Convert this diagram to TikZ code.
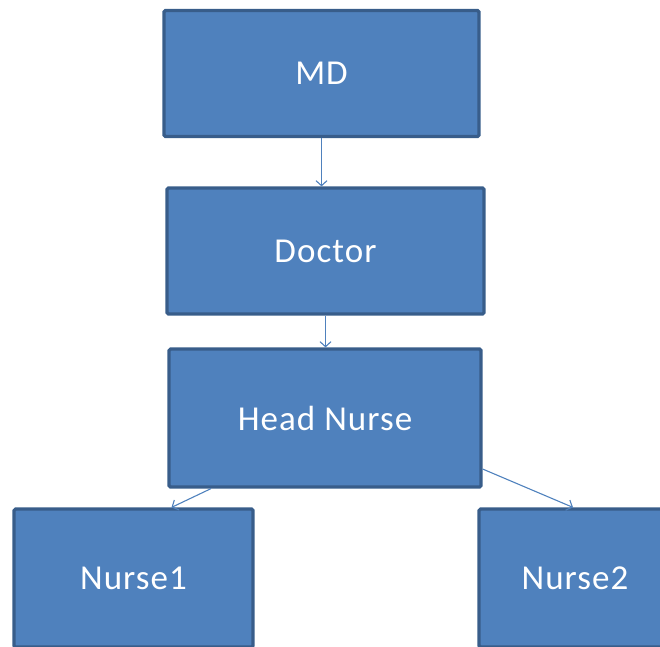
\documentclass[tikz,border=0pt]{standalone}
\usepackage{fontspec}
\setmainfont[LetterSpace=3]{Carlito}
\usepackage{tikz}
\usetikzlibrary{arrows.meta}
\definecolor{boxblue}{RGB}{79,129,189}
\definecolor{boxedge}{RGB}{56,93,138}
\definecolor{linkblue}{RGB}{79,129,189}
\tikzset{
  rolebox/.style={draw=boxedge,fill=boxblue,line width=3.2pt,rounded corners=1.5pt,
    text=white,font=\fontsize{35}{40}\selectfont,inner sep=0pt},
  link/.style={draw=linkblue,line width=1.1pt,-{Straight Barb[length=5pt,width=11pt]}}
}

\begin{document}
\begin{tikzpicture}[x=1pt,y=-1pt]
            \clip (0,0) rectangle (660,646);
            \node[rolebox,minimum width=315pt,minimum height=126pt] (md) at (321.5,73.5) {MD};
            \node[rolebox,minimum width=317pt,minimum height=126pt] (doctor) at (325.5,251) {Doctor};
            \node[rolebox,minimum width=312pt,minimum height=138pt] (headnurse) at (325,418) {Head Nurse};
            \node[rolebox,minimum width=239pt,minimum height=138pt] (nurseone) at (133.5,578) {Nurse1};
            \node[rolebox,minimum width=192pt,minimum height=138pt] (nursetwo) at (575,578) {Nurse2};
            \draw[link] (md.south) -- (md.south |- doctor.north);
            \draw[link] (doctor.south) -- (doctor.south |- headnurse.north);
            \draw[link] ([xshift=-114pt]headnurse.south) -- ([xshift=38pt]nurseone.north);
            \draw[link] ([yshift=-51pt]headnurse.east) -- ([xshift=-2pt]nursetwo.north);
\end{tikzpicture}
\end{document}
